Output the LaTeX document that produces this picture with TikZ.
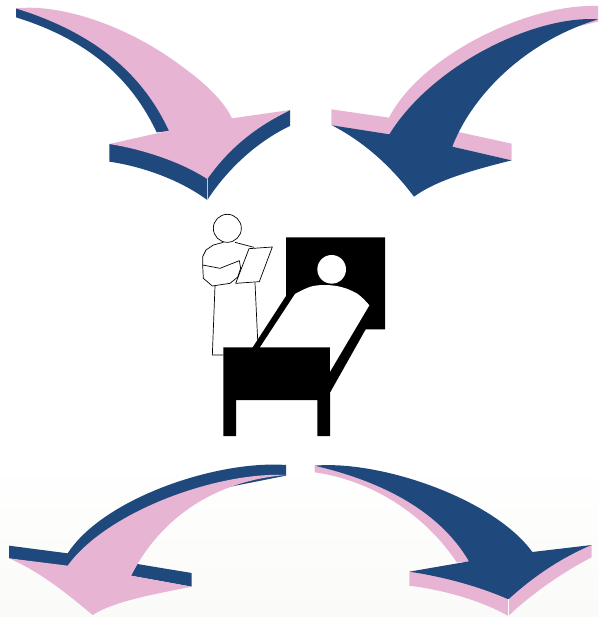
\documentclass[tikz,border=0pt]{standalone}
\definecolor{apink}{HTML}{E8B4D4}
\definecolor{ablue}{HTML}{1F497D}
\definecolor{paper}{HTML}{FAFAF8}
\tikzset{
  zoomed/.style={x=0.33333pt,y=-0.33333pt},
  outline/.style={draw=black,line width=0.7pt,line join=round,fill=none},
  curve/.style={smooth,tension=0.6}
}
\begin{document}
\begin{tikzpicture}[x=1pt,y=-1pt]
\useasboundingbox (0,0) rectangle (598,617);
\fill[white] (0,0) rectangle (598,617);
\shade[top color=white,bottom color=paper,draw=none] (0,460) rectangle (598,617);

% top-left arrow
\begin{scope}[zoomed]
\fill[ablue] (48,25) -- (48,52) .. controls (300,130) and (410,270) .. (470,397) -- (520,392) -- (400,200) -- (250,80) -- cycle;
\fill[ablue] (328,432) -- (328,485) .. controls (430,500) and (540,540) .. (622,600) .. controls (680,510) and (770,425) .. (870,378) -- (870,330) -- (700,420) -- (622,520) -- (450,440) -- cycle;
\fill[apink] (48,25) .. controls (200,10) and (400,90) .. (540,195) .. controls (610,245) and (670,300) .. (696,355) -- (870,330) .. controls (770,380) and (690,440) .. (622,537) .. controls (550,490) and (440,450) .. (328,432) -- (507,392) .. controls (440,250) and (320,110) .. (48,25) -- cycle;
\draw[white!70!ablue,line width=0.6pt] (622,537) -- (622,600);
\end{scope}

% top-right arrow
\begin{scope}[shift={(320,0)},zoomed]
\fill[apink] (834,18) .. controls (620,10) and (300,170) .. (207,353) -- (34,328) -- (34,376) -- (230,410) -- (330,280) -- (540,135) -- (834,65) -- cycle;
\fill[apink] (415,396) -- (575,431) -- (575,481) -- (397,440) -- cycle;
\fill[ablue] (834,58) .. controls (650,45) and (340,190) .. (208,403) -- (36,376) .. controls (130,425) and (210,495) .. (282,590) .. controls (350,540) and (460,510) .. (575,481) -- (397,440) .. controls (450,300) and (600,130) .. (834,58) -- cycle;
\end{scope}

% patient in bed
\begin{scope}[shift={(180,200)},zoomed]
\fill[black] (318,112) -- (615,112) -- (615,388) -- (557,388) -- (450,578) -- (450,708) -- (412,708) -- (412,600) -- (168,600) -- (168,708) -- (130,708) -- (130,442) -- (218,442) -- (318,288) -- cycle;
\fill[white] (455,208) circle[x radius=43,y radius=43];
\fill[white] (240,442) -- (345,282) -- plot[curve] coordinates {(345,282) (400,258) (470,258) (530,280) (568,316)} -- (450,515) -- (450,442) -- cycle;
% doctor
\draw[outline] (142,85) circle[x radius=42,y radius=42];
\draw[outline] (130,127) -- (100,135) -- (78,150) -- (68,170) -- (68,195) -- (70,235) -- (97,258) -- (150,250) -- (172,232);
\draw[outline] (68,195) -- (120,205) -- (178,182) -- (182,205) -- (172,235);
\draw[outline] (165,127) -- (222,142);
\draw[outline] (207,146) -- (277,141) -- (238,245) -- (167,250) -- cycle;
\draw[outline] (105,258) -- (97,465) -- (130,465);
\draw[outline] (225,248) -- (233,420);
\end{scope}

% bottom-left arrow
\begin{scope}[shift={(0,455)},zoomed]
\fill[ablue] (858,30) .. controls (650,15) and (310,130) .. (203,295) -- (27,272) -- (27,310) -- (220,340) -- (340,230) -- (540,125) -- (858,62) -- cycle;
\fill[ablue] (412,327) -- (575,354) -- (575,395) -- (393,362) -- cycle;
\fill[apink] (858,60) .. controls (650,50) and (320,170) .. (203,332) -- (27,310) .. controls (120,350) and (200,415) .. (278,480) .. controls (340,440) and (450,420) .. (575,395) -- (393,362) .. controls (470,210) and (620,80) .. (858,60) -- cycle;
\end{scope}

% bottom-right arrow
\begin{scope}[shift={(300,455)},zoomed]
\fill[apink] (44,32) -- (44,52) .. controls (240,80) and (390,200) .. (470,322) -- (520,320) -- (420,190) -- (250,70) -- cycle;
\fill[apink] (328,350) -- (328,392) .. controls (430,405) and (540,435) .. (625,483) .. controls (690,420) and (790,350) .. (875,307) -- (875,270) -- (700,350) -- (625,420) -- (450,360) -- cycle;
\fill[ablue] (44,32) .. controls (240,15) and (580,130) .. (697,291) -- (875,270) .. controls (780,310) and (700,365) .. (625,433) .. controls (540,395) and (430,365) .. (328,350) -- (507,319) .. controls (420,170) and (250,80) .. (44,32) -- cycle;
\draw[white,line width=0.7pt] (625,433) -- (625,483);
\end{scope}
\end{tikzpicture}
\end{document}
